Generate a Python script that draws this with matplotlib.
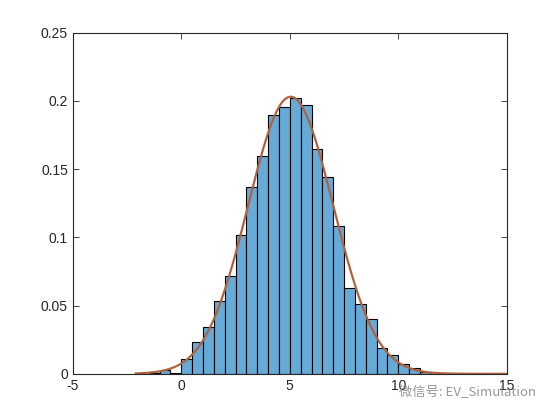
import numpy as np
import matplotlib
matplotlib.use('Agg')
from matplotlib import pyplot as plt

# histogram bins (left edges, width 0.5) and normalised heights
bin_left = [-1.5, -1.0, -0.5, 0.0, 0.5, 1.0, 1.5, 2.0, 2.5, 3.0, 3.5, 4.0, 4.5,
            5.0, 5.5, 6.0, 6.5, 7.0, 7.5, 8.0, 8.5, 9.0, 9.5, 10.0, 10.5, 11.0,
            11.5, 12.0]
bin_height = [0.0005, 0.003, 0.0005, 0.0112, 0.0233, 0.0343, 0.0532, 0.0718,
              0.1014, 0.1366, 0.160, 0.190, 0.1958, 0.2025, 0.197, 0.1645,
              0.1444, 0.1087, 0.0632, 0.0515, 0.040, 0.0192, 0.0141, 0.0070,
              0.0040, 0.0013, 0.0, 0.0005]
bin_width = 0.5

x_ticks = [-5, 0, 5, 10, 15]
y_ticks = [0, 0.05, 0.1, 0.15, 0.2, 0.25]
y_tick_labels = ['0', '0.05', '0.1', '0.15', '0.2', '0.25']

# normal fit from the histogram itself (like histfit)
centers = np.array(bin_left) + bin_width / 2
h = np.array(bin_height)
mu = np.sum(centers * h) / np.sum(h)
sigma = np.sqrt(np.sum(h * (centers - mu) ** 2) / np.sum(h))
xs = np.linspace(-2.1, 15, 300)
pdf = np.exp(-(xs - mu) ** 2 / (2 * sigma ** 2)) / (sigma * np.sqrt(2 * np.pi))

plt.rcParams['font.family'] = ['Liberation Sans', 'DejaVu Sans']
plt.rcParams['axes.unicode_minus'] = False

fig = plt.figure(figsize=(5.6, 4.2), dpi=100)
ax = fig.add_axes([0.13, 0.11, 0.775, 0.812])

ax.bar(bin_left, bin_height, width=bin_width, align='edge',
       color='#66aad7', edgecolor='black', linewidth=0.8)
ax.plot(xs, pdf, color='#b0623f', linewidth=1.6)

ax.set_xlim(-5, 15)
ax.set_ylim(0, 0.25)
ax.set_xticks(x_ticks)
ax.set_yticks(y_ticks)
ax.set_yticklabels(y_tick_labels)
ax.tick_params(direction='in', length=4, width=0.6, colors='#262626',
               labelsize=10, top=True, right=True)
for s in ax.spines.values():
    s.set_color('#262626')
    s.set_linewidth(0.8)

# watermark
fig.text(0.712, 0.058, '微信号: EV_Simulation', color='#8c8c8c', fontsize=9.5,
         family=['Noto Sans CJK SC', 'DejaVu Sans'], alpha=0.9)

plt.savefig('out.png', dpi=100)
